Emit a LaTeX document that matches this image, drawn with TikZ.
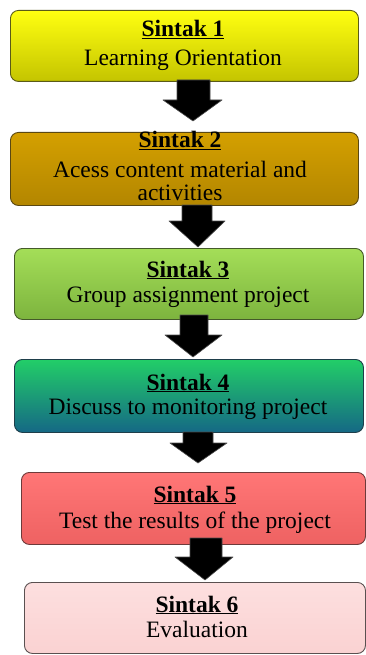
\documentclass[tikz,border=0pt]{standalone}
\usepackage{fontspec}
\setmainfont{Liberation Serif}
\definecolor{c1t}{HTML}{FFFF10}
\definecolor{c1b}{HTML}{C4C400}
\definecolor{c1d}{HTML}{5A5A18}
\definecolor{c2t}{HTML}{D4A000}
\definecolor{c2b}{HTML}{B38600}
\definecolor{c2d}{HTML}{5A4812}
\definecolor{c3t}{HTML}{A4DE58}
\definecolor{c3b}{HTML}{7DB43E}
\definecolor{c3d}{HTML}{455A2A}
\definecolor{c4t}{HTML}{22CE68}
\definecolor{c4b}{HTML}{156885}
\definecolor{c4d}{HTML}{1E3E4A}
\definecolor{c5t}{HTML}{FF7676}
\definecolor{c5b}{HTML}{EE6262}
\definecolor{c5d}{HTML}{6E3A3A}
\definecolor{c6t}{HTML}{FDDFDF}
\definecolor{c6b}{HTML}{FAD2D2}
\definecolor{c6d}{HTML}{5A5050}
\begin{document}
\begin{tikzpicture}[x=1pt,y=-1pt,
  box/.style={draw=#1, line width=0.9pt, rounded corners=8pt, anchor=north west, inner sep=0pt},
  ttl/.style={anchor=base, inner sep=0pt, font=\fontsize{23.5}{28}\selectfont\bfseries},
  txt/.style={anchor=base, inner sep=0pt, font=\fontsize{23.5}{28}\selectfont},
  blk/.style={fill=black, draw=black!70, line width=0.6pt, line join=round}]
\useasboundingbox (0,0) rectangle (366,655);

% boxes
\node[box=c1d, top color=c1t, bottom color=c1b, minimum width=348pt, minimum height=71pt] (b1) at (10,10) {};
\node[box=c2d, top color=c2t, bottom color=c2b, minimum width=348pt, minimum height=73pt] (b2) at (10,132) {};
\node[box=c3d, top color=c3t, bottom color=c3b, minimum width=349pt, minimum height=71pt] (b3) at (14,248) {};
\node[box=c4d, top color=c4t, bottom color=c4b, minimum width=349pt, minimum height=73pt] (b4) at (14,359) {};
\node[box=c5d, top color=c5t, bottom color=c5b, minimum width=344pt, minimum height=72pt] (b5) at (21,472) {};
\node[box=c6d, top color=c6t, bottom color=c6b, minimum width=341pt, minimum height=71pt] (b6) at (24,582) {};

% texts
\node[ttl] (t1) at (183,37) {\underline{Sintak 1}};
\node[txt] (l1) at (183,65.5) {Learning Orientation};
\node[ttl] (t2) at (180,148) {\underline{Sintak 2}};
\node[txt] (l2a) at (180,177) {Acess content material and};
\node[txt] (l2b) at (180,200) {activities};
\node[ttl] (t3) at (188,277) {\underline{Sintak 3}};
\node[txt] (l3) at (188,302) {Group assignment project};
\node[ttl] (t4) at (188,390) {\underline{Sintak 4}};
\node[txt] (l4) at (188,414) {Discuss to monitoring project};
\node[ttl] (t5) at (195,502) {\underline{Sintak 5}};
\node[txt] (l5) at (195,528) {Test the results of the project};
\node[ttl] (t6) at (197,612) {\underline{Sintak 6}};
\node[txt] (l6) at (197,637) {Evaluation};

% block arrows
\path[blk] (177,80) -- (210,80) -- (210,100) -- (222,100) -- (193,121) -- (163,100) -- (177,100) -- cycle;
\path[blk] (182,205) -- (212,205) -- (212,221) -- (225,221) -- (198,247) -- (169,221) -- (182,221) -- cycle;
\path[blk] (180,315) -- (208,315) -- (208,335) -- (222,335) -- (193,357) -- (165,335) -- (180,335) -- cycle;
\path[blk] (183,432) -- (213,432) -- (213,443) -- (227,443) -- (198,463) -- (170,443) -- (183,443) -- cycle;
\path[blk] (190,538) -- (222,538) -- (222,557) -- (233,557) -- (205,580) -- (175,557) -- (190,557) -- cycle;
\end{tikzpicture}
\end{document}
